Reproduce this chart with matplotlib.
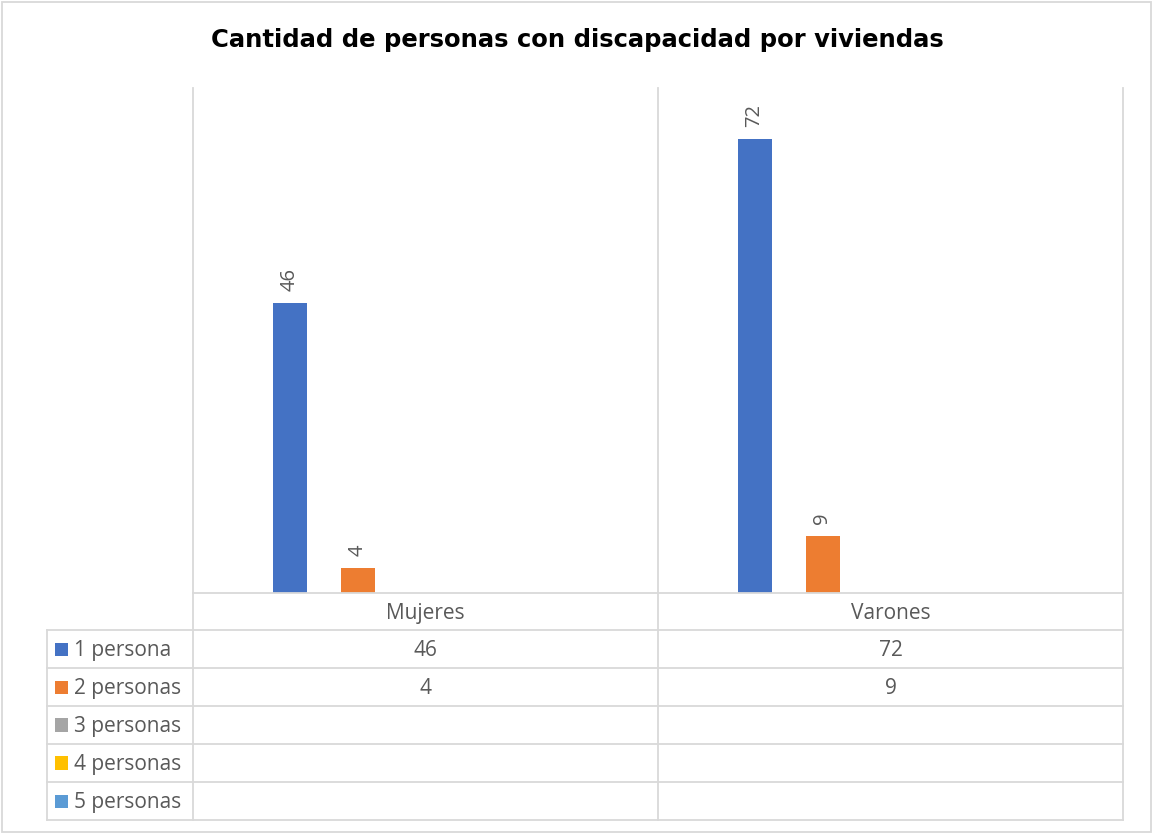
import matplotlib.pyplot as plt
from matplotlib.lines import Line2D
from matplotlib.patches import Rectangle
import numpy as np

plt.rcParams['font.family'] = ['Open Sans', 'DejaVu Sans']

title = 'Cantidad de personas con discapacidad por viviendas'
categories = ['Mujeres', 'Varones']
series = ['1 persona', '2 personas', '3 personas', '4 personas', '5 personas']
values = [
    [46, 72],
    [4, 9],
    [None, None],
    [None, None],
    [None, None],
]
colors = ['#4472C4', '#ED7D31', '#A5A5A5', '#FFC000', '#5B9BD5']

W, H = 1154, 835
grid = '#d9d9d9'
txt = '#595959'
fs = 15


def fx(x):
    return x / W


def fy(y):
    return 1 - y / H


def hline(fig, y, x0, x1):
    fig.add_artist(Line2D([fx(x0), fx(x1)], [fy(y), fy(y)], color=grid, lw=1.3))


def vline(fig, x, y0, y1):
    fig.add_artist(Line2D([fx(x), fx(x)], [fy(y0), fy(y1)], color=grid, lw=1.3))


fig = plt.figure(figsize=(W / 100, H / 100), dpi=100)
fig.add_artist(Rectangle((fx(2), fy(832)), fx(1149), fy(2) - fy(832),
                         fill=False, edgecolor=grid, lw=1.3))

# plot area
left, right, top, bottom = 193, 1123, 88, 593
ax = fig.add_axes([fx(left), fy(bottom), fx(right - left), fy(top) - fy(bottom)])
ax.set_xlim(-0.5, len(categories) - 0.5)
ax.set_ylim(0, 80)
ax.axis('off')

n = len(series)
step = 68 / 465
bw = 34 / 465
x = np.arange(len(categories))
for i, (name, vals, c) in enumerate(zip(series, values, colors)):
    pos = x + (i - (n - 1) / 2) * step
    hv = [v if v is not None else 0 for v in vals]
    ax.bar(pos, hv, width=bw, color=c, zorder=2)
    for p, v in zip(pos, vals):
        if v is None:
            continue
        ax.annotate(str(v), (p, v), xytext=(0, 8.5), textcoords='offset points',
                    rotation=90, ha='center', va='bottom', color=txt, fontsize=14.5)

fig.text(0.5, fy(40), title, ha='center', va='center', fontsize=17.5,
         fontweight='bold', color='black', family=['DejaVu Sans'])

# data table
row_h = 38
rows_y = [593 + 37 + row_h * k for k in range(n + 1)]
hline(fig, 593, left, right)
for y in rows_y:
    hline(fig, y, 47, right)
vline(fig, 47, rows_y[0], rows_y[-1])
col_x = [left, 658, right]
for cx in col_x:
    vline(fig, cx, top, rows_y[-1])

for j, cat in enumerate(categories):
    cx = (col_x[j] + col_x[j + 1]) / 2
    fig.text(fx(cx), fy(613.5), cat, ha='center', va='center', color=txt, fontsize=fs)

for i, (name, vals, c) in enumerate(zip(series, values, colors)):
    cy = (rows_y[i] + rows_y[i + 1]) / 2
    fig.add_artist(Rectangle((fx(55), fy(cy + 6.5)), fx(13), fy(cy - 6.5) - fy(cy + 6.5),
                             facecolor=c, edgecolor='none'))
    fig.text(fx(74), fy(cy + 1.5), name, ha='left', va='center', color=txt, fontsize=fs)
    for j, v in enumerate(vals):
        if v is None:
            continue
        cx = (col_x[j] + col_x[j + 1]) / 2
        fig.text(fx(cx), fy(cy + 1.5), str(v), ha='center', va='center', color=txt, fontsize=fs)

fig.savefig('out.png', dpi=100)
